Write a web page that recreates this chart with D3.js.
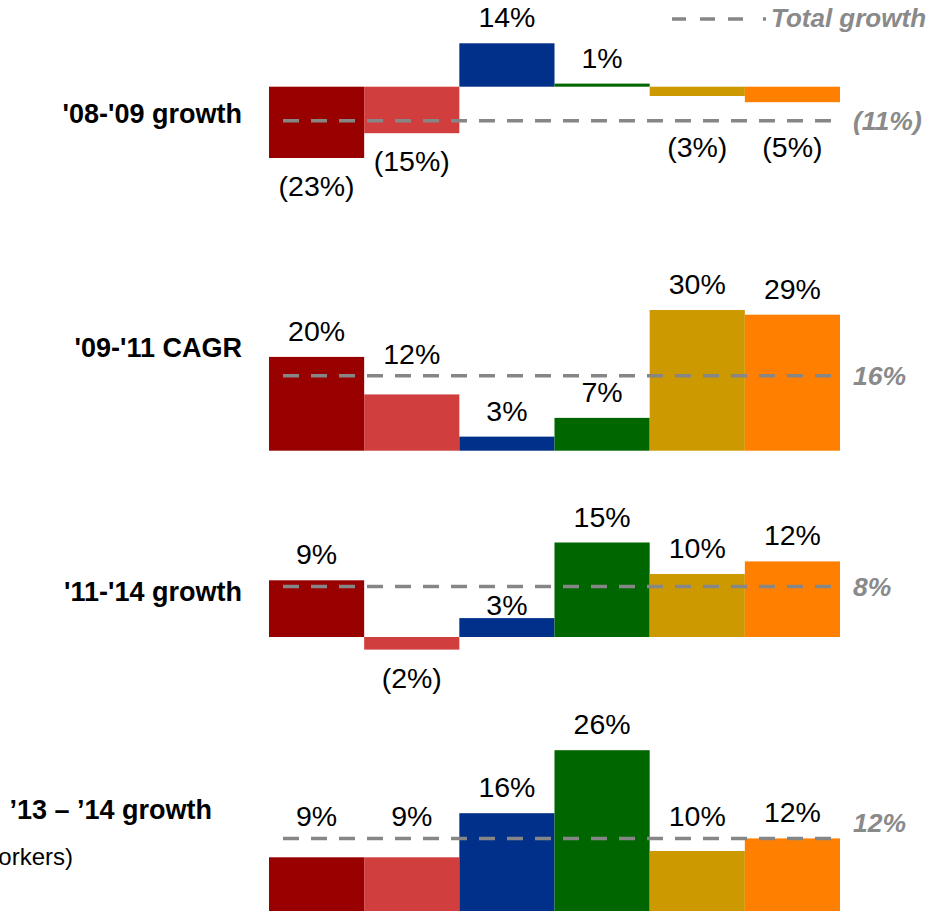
<!DOCTYPE html>
<html>
<head>
<meta charset="utf-8">
<script src="https://cdn.jsdelivr.net/npm/d3@7"></script>
<style>
  html, body { margin: 0; padding: 0; background: #fff; }
  svg { display: block; }
  text { font-family: "Liberation Sans", Arial, Helvetica, sans-serif; }
</style>
</head>
<body>
<svg id="chart" width="933" height="911"></svg>
<script>
// Growth by segment, one row per period (values in %)
const periods = ["'08-'09 growth", "'09-'11 CAGR", "'11-'14 growth", "\u201913 \u2013 \u201914 growth"];
const segments = ["s1", "s2", "s3", "s4", "s5", "s6"];
const growth0809 = [-23, -15, 14, 1, -3, -5];
const cagr0911   = [20, 12, 3, 7, 30, 29];
const growth1114 = [9, -2, 3, 15, 10, 12];
const growth1314 = [9, 9, 16, 26, 10, 12];
const seriesValues = [growth0809, cagr0911, growth1114, growth1314];
const totalGrowth = [-11, 16, 8, 12];
const subtitle = "(Number of workers)";
const legendLabel = "Total growth";

const colors = ["#990000", "#D03E3E", "#00308A", "#006600", "#CC9900", "#FF8000"];

// Row layout: zero-line position and vertical pixels per percentage point
const rows = [
  { zero: 86.7,  px: 3.1 },
  { zero: 450.7, px: 4.69 },
  { zero: 637,   px: 6.3 },
  { zero: 914,   px: 6.3 }
];
const rowLabelX = [242, 242, 242, 212];
const rowLabelY = [123, 357, 601, 819];
const totalLabelShift = [0, 0, 0, -16];

const svg = d3.select("#chart");
const fmt = v => v < 0 ? `(${Math.abs(v)}%)` : `${v}%`;

const x = d3.scaleBand().domain(segments).range([269, 840]).padding(0);

const lineX0 = 283, lineX1 = 831;
const valueFont = 28.5, labelH = 20;

seriesValues.forEach((vals, r) => {
  const y = d3.scaleLinear().domain([0, 1]).range([rows[r].zero, rows[r].zero - rows[r].px]);
  const g = svg.append("g");
  const lineY = y(totalGrowth[r]);

  // bars
  g.selectAll("rect").data(vals).join("rect")
    .attr("x", (d, i) => x(segments[i]))
    .attr("width", x.bandwidth())
    .attr("y", d => Math.min(y(d), y(0)))
    .attr("height", d => Math.max(Math.abs(y(d) - y(0)), 1.5))
    .attr("fill", (d, i) => colors[i]);

  // total growth dashed line
  g.append("line")
    .attr("x1", lineX0).attr("x2", lineX1)
    .attr("y1", lineY).attr("y2", lineY)
    .attr("stroke", "#868686")
    .attr("stroke-width", 3.5)
    .attr("stroke-dasharray", "16,12");

  // value labels, kept clear of the dashed line
  g.selectAll("text.val").data(vals).join("text")
    .attr("class", "val")
    .attr("x", (d, i) => x(segments[i]) + x.bandwidth() / 2)
    .attr("y", d => {
      if (d >= 0) {
        const top = y(d);
        let base = top - 16;
        if (base + 3 > lineY - 6 && base - labelH < lineY + 6) {
          const down = lineY + 8 + labelH;
          base = (down <= top - 2) ? down : lineY - 12;
        }
        return base;
      } else {
        const bottom = y(d);
        let tTop = bottom + 18;
        if (tTop < lineY + 6 && tTop + labelH + 3 > lineY - 6) tTop = lineY + 16;
        return tTop + labelH;
      }
    })
    .attr("text-anchor", "middle")
    .attr("font-size", valueFont)
    .attr("fill", "#000")
    .text(d => fmt(d));

  // total growth value
  g.append("text")
    .attr("x", 853)
    .attr("y", lineY + totalLabelShift[r])
    .attr("dy", "0.35em")
    .attr("font-size", 26.5)
    .attr("font-weight", "bold")
    .attr("font-style", "italic")
    .attr("fill", "#8A8A8A")
    .text(fmt(totalGrowth[r]));

  // row label
  svg.append("text")
    .attr("x", rowLabelX[r])
    .attr("y", rowLabelY[r])
    .attr("text-anchor", "end")
    .attr("font-size", 27)
    .attr("font-weight", "bold")
    .attr("fill", "#000")
    .text(periods[r]);
});

// subtitle under the last row label
svg.append("text")
  .attr("x", 73).attr("y", 865)
  .attr("text-anchor", "end")
  .attr("font-size", 24)
  .attr("fill", "#000")
  .text(subtitle);

// legend
const leg = svg.append("g");
leg.append("line")
  .attr("x1", 672).attr("x2", 768)
  .attr("y1", 19).attr("y2", 19)
  .attr("stroke", "#868686")
  .attr("stroke-width", 3.5)
  .attr("stroke-dasharray", "14,14,15,13,15,20,3,100");
leg.append("text")
  .attr("x", 771).attr("y", 27)
  .attr("font-size", 26)
  .attr("font-weight", "bold")
  .attr("font-style", "italic")
  .attr("fill", "#8A8A8A")
  .text(legendLabel);
</script>
</body>
</html>
